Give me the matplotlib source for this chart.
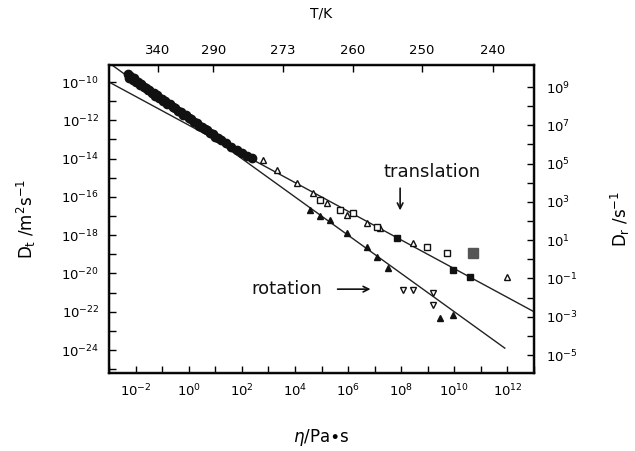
import numpy as np
import matplotlib
matplotlib.use("Agg")
import matplotlib.pyplot as plt
from matplotlib.ticker import FixedLocator, FuncFormatter, NullLocator

# ---------------- data (log10 values) ----------------
# dense rotation band (filled circles)
band_log_eta = [-2.3, -2.25, -2.2, -2.1, -2.05, -2.0, -1.9, -1.85, -1.8, -1.7, -1.6, -1.55,
                -1.5, -1.4, -1.3, -1.25, -1.2, -1.1, -1.0, -0.95, -0.9, -0.8, -0.7, -0.6,
                -0.5, -0.4, -0.3, -0.2, -0.1, 0.0, 0.1, 0.2, 0.3, 0.4, 0.5, 0.6, 0.7,
                0.8, 0.9, 1.0, 1.1, 1.2, 1.4, 1.6, 1.8, 2.0, 2.2, 2.4]
band_log_D = [-9.60, -9.78, -9.70, -9.90, -9.80, -10.00, -10.02, -10.16, -10.10, -10.28, -10.30, -10.44,
              -10.40, -10.56, -10.58, -10.72, -10.68, -10.84, -10.88, -11.00, -10.98, -11.14, -11.16, -11.32,
              -11.36, -11.52, -11.55, -11.72, -11.74, -11.90, -11.94, -12.10, -12.13, -12.28, -12.33, -12.46,
              -12.52, -12.66, -12.72, -12.85, -12.92, -13.02, -13.20, -13.38, -13.55, -13.70, -13.85, -13.98]

# translation data (open triangles / squares)
trans_tri_log_eta = [2.80, 3.33, 4.08, 4.68, 5.21, 5.96, 6.71, 7.20, 8.45, 11.98]
trans_tri_log_D = [-14.08, -14.60, -15.28, -15.80, -16.32, -16.95, -17.37, -17.63, -18.41, -20.19]
trans_sq_log_eta = [4.94, 5.70, 6.19, 7.09, 8.97, 9.73]
trans_sq_log_D = [-16.17, -16.69, -16.84, -17.58, -18.62, -18.93]
trans_fill_log_eta = [7.84, 9.95, 10.59]
trans_fill_log_D = [-18.15, -19.82, -20.19]
trans_grey_log_eta = [10.70]
trans_grey_log_D = [-18.93]

# rotation data (filled triangles / others)
rot_tri_log_eta = [4.57, 4.94, 5.32, 5.96, 6.71, 7.09, 7.50, 9.46, 9.95]
rot_tri_log_D = [-16.69, -17.00, -17.21, -17.89, -18.62, -19.14, -19.72, -22.33, -22.17]
rot_open_log_eta = [8.07, 8.45, 9.20, 9.20]
rot_open_log_D = [-20.87, -20.87, -21.02, -21.65]

# fitted lines (end points)
trans_line_log_eta = [-3.0, 13.0]
trans_line_log_D = [-10.0, -22.0]
rot_line_log_eta = [-3.0, 11.9]
rot_line_log_D = [-9.0, -23.9]

# top axis: temperatures
T_labels = ["340", "290", "273", "260", "250", "240"]
T_log_eta = [-1.16, 0.92, 3.55, 6.19, 8.78, 11.46]

# right axis offset (log10 D_r - log10 D_t)
right_offset = 19.26

def p(v):
    return [10.0 ** x for x in v]

# ---------------- figure ----------------
fig = plt.figure(figsize=(6.35, 4.51), dpi=100)
ax = fig.add_axes([109/635, 1 - 373/451, (534-109)/635, (373-65)/451])
ax.set_xscale("log")
ax.set_yscale("log")
xmin, xmax = 1e-3, 1e13
ymin, ymax = 10**-25.2, 10**-9.11
ax.set_xlim(xmin, xmax)
ax.set_ylim(ymin, ymax)

lw_line = 1.0
ax.plot(p(trans_line_log_eta), p(trans_line_log_D), color="#222", lw=lw_line, zorder=2)
ax.plot(p(rot_line_log_eta), p(rot_line_log_D), color="#222", lw=lw_line, zorder=2)

ax.plot(p(band_log_eta), p(band_log_D), "o", ms=6, color="#111", mec="#111", zorder=3)
ax.plot(p(trans_tri_log_eta), p(trans_tri_log_D), "^", ms=4.5, mfc="white", mec="#111", mew=1.0, ls="none", zorder=3)
ax.plot(p(trans_sq_log_eta), p(trans_sq_log_D), "s", ms=4.5, mfc="white", mec="#111", mew=1.0, ls="none", zorder=3)
ax.plot(p(trans_fill_log_eta), p(trans_fill_log_D), "s", ms=4, color="#111", ls="none", zorder=3)
ax.plot(p(trans_grey_log_eta), p(trans_grey_log_D), "s", ms=7, color="#555", ls="none", zorder=3)
ax.plot(p(rot_tri_log_eta), p(rot_tri_log_D), "^", ms=4.5, color="#111", ls="none", zorder=3)
ax.plot(p(rot_open_log_eta), p(rot_open_log_D), "v", ms=4.5, mfc="white", mec="#111", mew=1.0, ls="none", zorder=3)

# annotations
ax.text(10**9.16, 10**-14.70, "translation", fontsize=13, ha="center", va="center", color="#111")
ax.annotate("", xy=(10**7.96, 10**-16.85), xytext=(10**7.96, 10**-15.40),
            arrowprops=dict(arrowstyle="->", color="#111", lw=1.2))
ax.text(10**3.70, 10**-20.82, "rotation", fontsize=13, ha="center", va="center", color="#111")
ax.annotate("", xy=(10**6.95, 10**-20.82), xytext=(10**5.50, 10**-20.82),
            arrowprops=dict(arrowstyle="->", color="#111", lw=1.2))

# ticks
tick_fs = 9.5
def sci_even(v, pos):
    e = int(round(np.log10(v)))
    return r"$10^{%d}$" % e

x_major = [10.0**e for e in range(-3, 14)]
ax.xaxis.set_major_locator(FixedLocator(x_major))
ax.xaxis.set_major_formatter(FuncFormatter(lambda v, pos: sci_even(v, pos) if int(round(np.log10(v))) % 2 == 0 and -2 <= round(np.log10(v)) <= 12 else ""))
ax.xaxis.set_minor_locator(NullLocator())
y_major = [10.0**e for e in range(-25, -9)]
ax.yaxis.set_major_locator(FixedLocator(y_major))
ax.yaxis.set_major_formatter(FuncFormatter(lambda v, pos: sci_even(v, pos) if int(round(np.log10(v))) % 2 == 0 and -24 <= round(np.log10(v)) <= -10 else ""))
ax.yaxis.set_minor_locator(NullLocator())
ax.tick_params(axis="both", which="major", direction="in", length=5, width=1.0,
               labelsize=tick_fs, pad=7, top=False, right=False)

for s in ax.spines.values():
    s.set_linewidth(1.6)
    s.set_color("#111")

ax.set_xlabel(r"$\eta$/Pa$\bullet$s", fontsize=12, labelpad=20)
ax.set_ylabel(r"D$_{\rm t}$ /m$^{2}$s$^{-1}$", fontsize=12, labelpad=17)

# right axis
axr = ax.twinx()
axr.set_yscale("log")
axr.set_ylim(ymin * 10**right_offset, ymax * 10**right_offset)
r_major = [10.0**e for e in range(-6, 10)]
axr.yaxis.set_major_locator(FixedLocator(r_major))
axr.yaxis.set_major_formatter(FuncFormatter(lambda v, pos: sci_even(v, pos) if int(round(np.log10(v))) % 2 != 0 and -5 <= round(np.log10(v)) <= 9 else ""))
axr.yaxis.set_minor_locator(NullLocator())
axr.tick_params(axis="y", direction="in", length=5, width=1.0, labelsize=tick_fs, pad=9)
axr.set_ylabel(r"D$_{\rm r}$ /s$^{-1}$", fontsize=12, labelpad=22)
for s in axr.spines.values():
    s.set_linewidth(1.6)
    s.set_color("#111")

# top axis
axt = ax.twiny()
axt.set_xscale("log")
axt.set_xlim(xmin, xmax)
axt.xaxis.set_major_locator(FixedLocator(p(T_log_eta)))
axt.xaxis.set_major_formatter(FuncFormatter(lambda v, pos: T_labels[pos] if pos is not None and pos < len(T_labels) else ""))
axt.xaxis.set_minor_locator(NullLocator())
axt.tick_params(axis="x", direction="in", length=5, width=1.0, labelsize=tick_fs, pad=6)
axt.set_xlabel("T/K", fontsize=10, labelpad=19)

fig.savefig("out.png", dpi=100, facecolor="white")
